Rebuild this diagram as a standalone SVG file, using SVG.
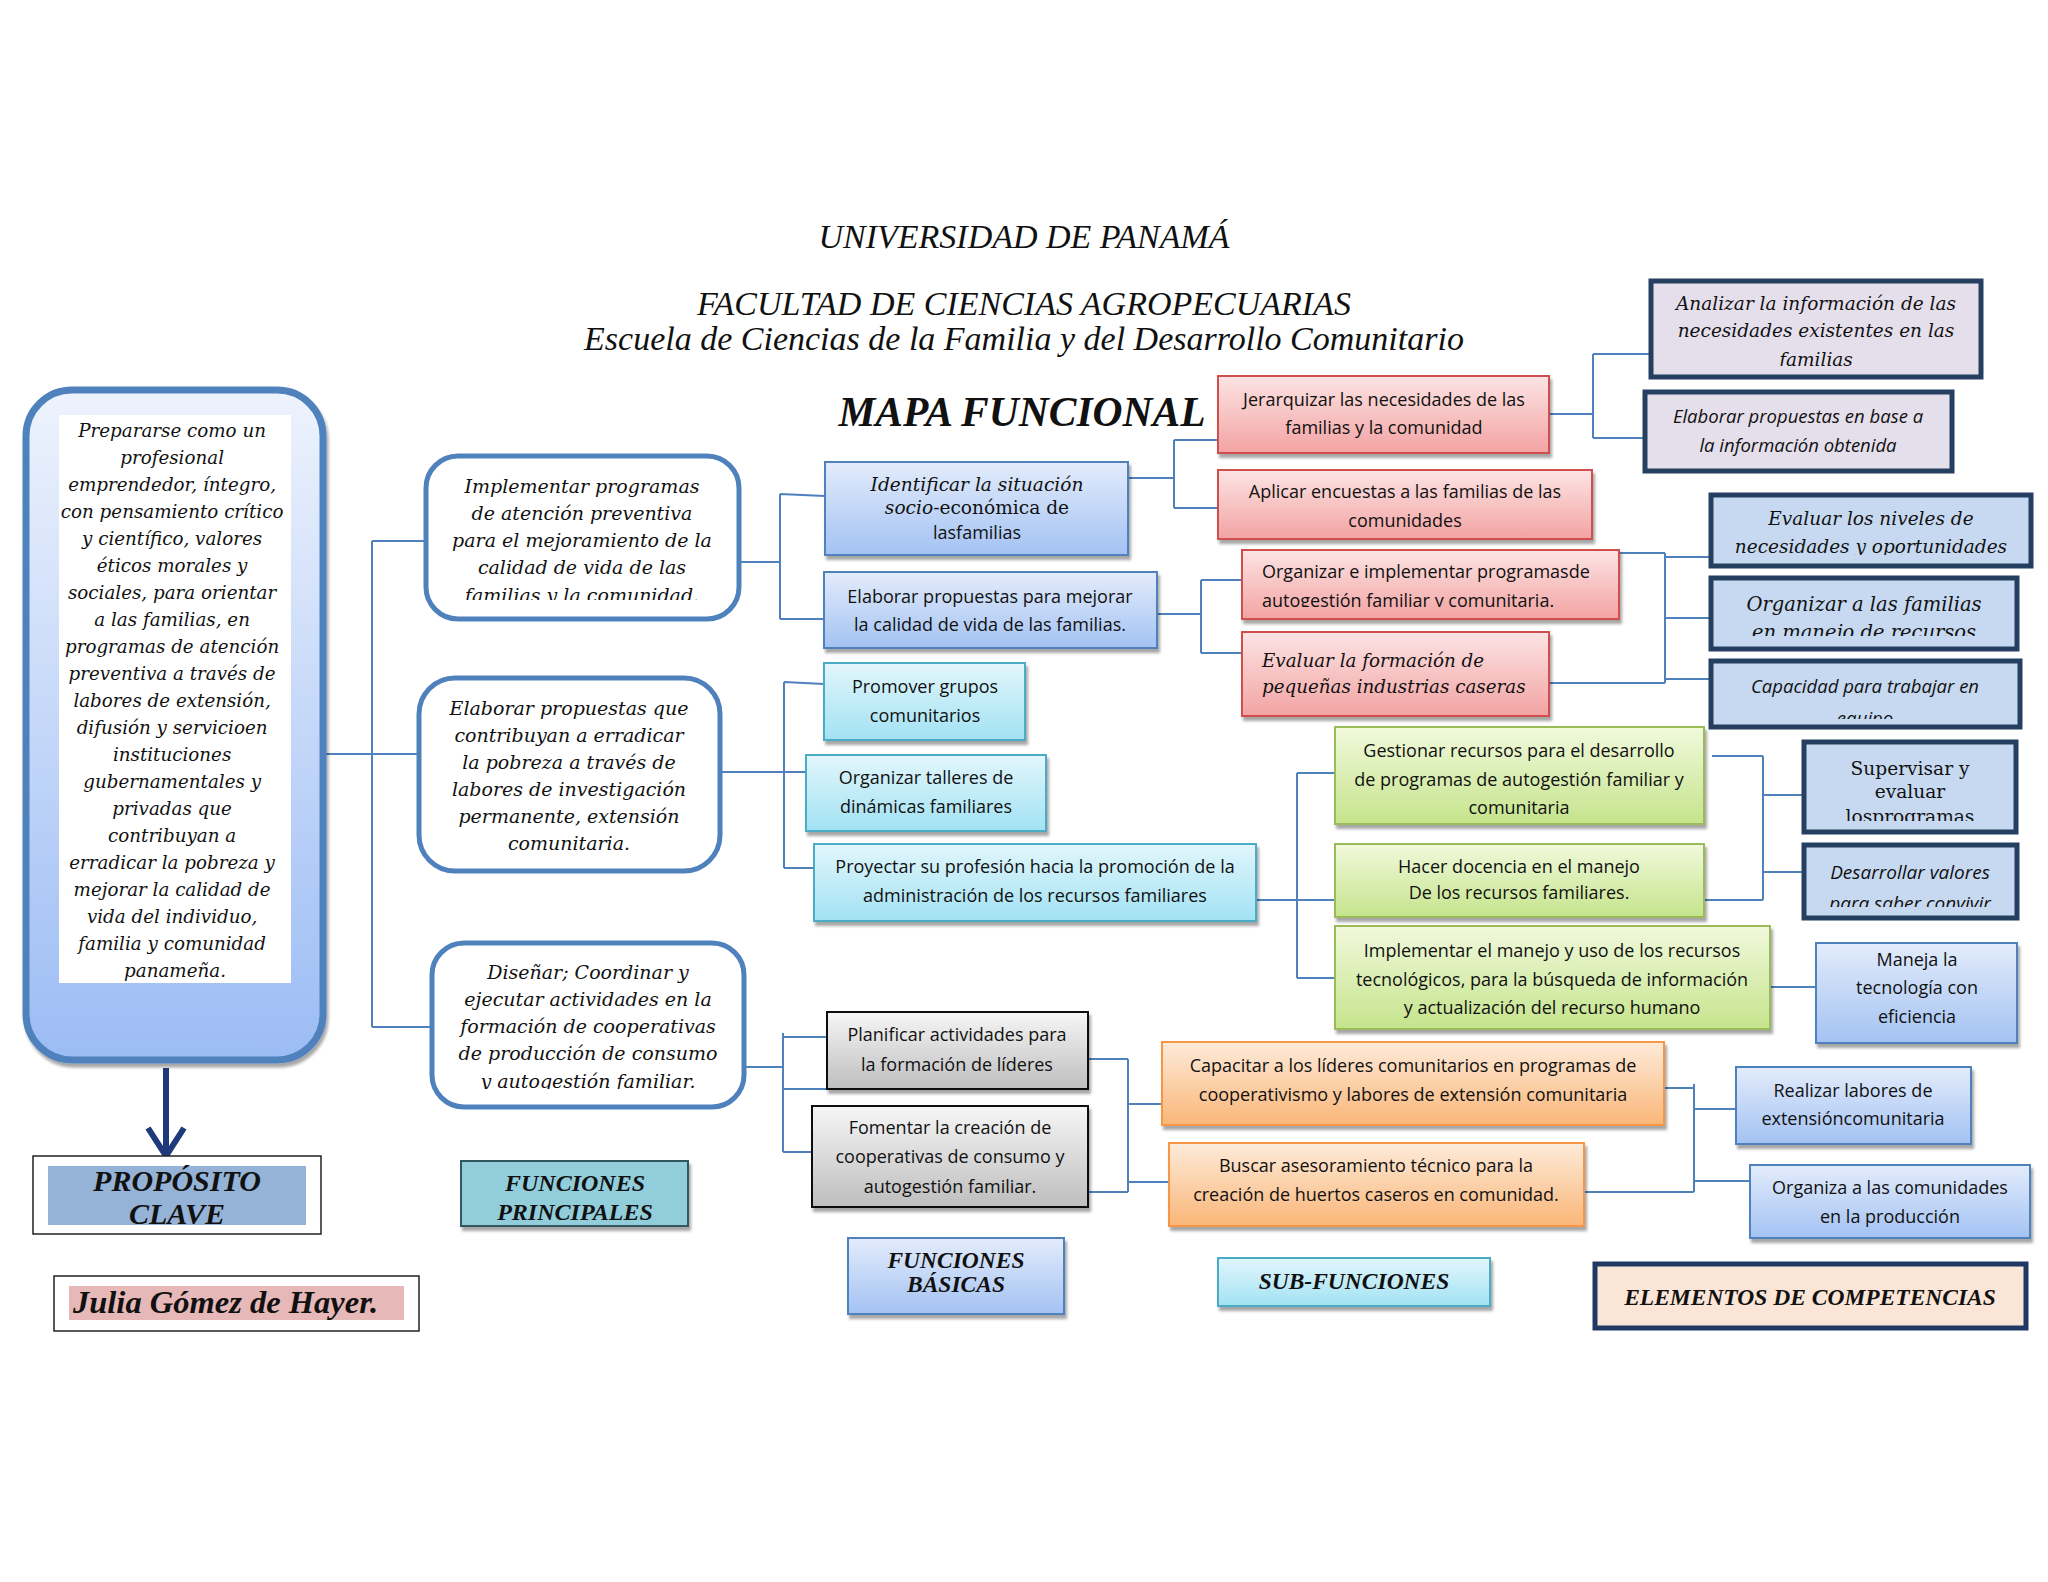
<svg xmlns="http://www.w3.org/2000/svg" width="2048" height="1582" viewBox="0 0 2048 1582">
<style>
.c{fill:none;stroke:#4F81BD;stroke-width:2}
.sn{font-family:"Open Sans","DejaVu Sans",sans-serif;font-size:18px;fill:#111;text-anchor:middle}
.sni{font-family:"Open Sans","DejaVu Sans",sans-serif;font-style:italic;font-size:18.5px;fill:#111;text-anchor:middle}
.si{font-family:"DejaVu Serif","Liberation Serif",serif;font-style:italic;font-size:19px;fill:#111;text-anchor:middle}
.sr{font-family:"DejaVu Serif","Liberation Serif",serif;font-size:18.6px;fill:#111;text-anchor:middle}
.hd{font-family:"Liberation Serif","DejaVu Serif",serif;font-style:italic;font-size:34px;fill:#111;text-anchor:middle}
.lb{font-family:"Liberation Serif","DejaVu Serif",serif;font-style:italic;font-weight:bold;font-size:23.5px;fill:#111;text-anchor:middle}
.fn{fill:#fff;stroke:#4F81BD;stroke-width:5}
.bl{fill:url(#gB);stroke:#4F81BD;stroke-width:2}
.cy{fill:url(#gC);stroke:#4BACC6;stroke-width:2}
.rd{fill:url(#gR);stroke:#D0504D;stroke-width:2}
.gr{fill:url(#gG);stroke:#9BBB59;stroke-width:2}
.or{fill:url(#gO);stroke:#F79646;stroke-width:2}
.gy{fill:url(#gY);stroke:#111;stroke-width:2}
.ed{stroke:#243F60;stroke-width:5}
</style>
<defs>
<linearGradient id="gB" x1="0" y1="0" x2="0" y2="1"><stop offset="0" stop-color="#E3ECFB"/><stop offset="1" stop-color="#A3C2F3"/></linearGradient>
<linearGradient id="gK" x1="0" y1="0" x2="0" y2="1"><stop offset="0" stop-color="#EEF3FD"/><stop offset="1" stop-color="#9BBCF4"/></linearGradient>
<linearGradient id="gC" x1="0" y1="0" x2="0" y2="1"><stop offset="0" stop-color="#E2F6FC"/><stop offset="1" stop-color="#A2E2F3"/></linearGradient>
<linearGradient id="gR" x1="0" y1="0" x2="0" y2="1"><stop offset="0" stop-color="#FCE4E4"/><stop offset="1" stop-color="#F3A3A3"/></linearGradient>
<linearGradient id="gG" x1="0" y1="0" x2="0" y2="1"><stop offset="0" stop-color="#F1F9DC"/><stop offset="1" stop-color="#C5E48C"/></linearGradient>
<linearGradient id="gO" x1="0" y1="0" x2="0" y2="1"><stop offset="0" stop-color="#FDEBDA"/><stop offset="1" stop-color="#FAB678"/></linearGradient>
<linearGradient id="gY" x1="0" y1="0" x2="0" y2="1"><stop offset="0" stop-color="#F6F6F6"/><stop offset="1" stop-color="#BEBEBE"/></linearGradient>
<filter id="sh" x="-10%" y="-10%" width="120%" height="130%"><feDropShadow dx="2" dy="4" stdDeviation="1.5" flood-color="#000" flood-opacity="0.35"/></filter>
<clipPath id="cF1"><rect x="426" y="456" width="313" height="144"/></clipPath>
<clipPath id="cF3"><rect x="432" y="943" width="312" height="146"/></clipPath>
<clipPath id="cS3"><rect x="1242" y="550" width="377" height="57"/></clipPath>
<clipPath id="cE1"><rect x="1651" y="281" width="330" height="85"/></clipPath>
<clipPath id="cE3"><rect x="1711" y="495" width="320" height="60"/></clipPath>
<clipPath id="cE4"><rect x="1711" y="578" width="306" height="58"/></clipPath>
<clipPath id="cE5"><rect x="1711" y="661" width="309" height="58"/></clipPath>
<clipPath id="cE6"><rect x="1804" y="742" width="212" height="79"/></clipPath>
<clipPath id="cE7"><rect x="1804" y="845" width="213" height="62"/></clipPath>
</defs>
<rect x="0" y="0" width="2048" height="1582" fill="#fff"/>

<g id="title">
<text class="hd" x="1024" y="248">UNIVERSIDAD DE PANAMÁ</text>
<text class="hd" x="1024" y="315">FACULTAD DE CIENCIAS AGROPECUARIAS</text>
<text class="hd" x="1024" y="350">Escuela de Ciencias de la Familia y del Desarrollo Comunitario</text>
<text class="lb" x="1022" y="426" style="font-size:41.5px">MAPA FUNCIONAL</text>
</g>

<g id="connectors">
<path class="c" d="M372,541V1027M372,541H426M323,754H419M372,1027H432" />
<path class="c" d="M739,562H780M780,494V619M780,494L825,496M780,619H824"/>
<path class="c" d="M720,772H784M784,682V868M784,682L824,684M784,772H806M784,868H814"/>
<path class="c" d="M744,1067H783M783,1033V1152M783,1037H827M783,1089H827M783,1152H812"/>
<path class="c" d="M1088,1059H1128M1088,1192H1128M1128,1059V1192M1128,1104H1162M1128,1182H1169"/>
<path class="c" d="M1664,1088H1694M1584,1192H1694M1694,1084V1192M1694,1109H1736M1694,1181H1750"/>
<path class="c" d="M1128,478H1174M1174,440V508M1174,440H1218M1174,508H1218"/>
<path class="c" d="M1157,614H1201M1201,580V653M1201,580H1242M1201,653H1242"/>
<path class="c" d="M1549,414H1593M1593,354V438M1593,354H1651M1593,438H1645"/>
<path class="c" d="M1619,553H1665M1549,683H1665M1665,553V683M1665,557H1711M1665,618H1711M1665,679H1711"/>
<path class="c" d="M1256,900H1297M1297,773V978M1297,773H1335M1297,900H1335M1297,978H1335"/>
<path class="c" d="M1712,756H1763M1704,900H1763M1763,756V900M1763,795H1804M1763,872H1804"/>
<path class="c" d="M1770,987H1816"/>
<path d="M166,1068V1152M148,1128L166,1156L184,1128" fill="none" stroke="#1F3A7A" stroke-width="6"/>
</g>

<g id="n-key">
<rect x="26" y="390" width="297" height="670" rx="46" fill="url(#gK)" stroke="#4F81BD" stroke-width="7" filter="url(#sh)"/>
<rect x="59" y="415" width="232" height="568" fill="#fff"/>
<text class="si" style="font-size:18.3px">
<tspan x="175" y="437">Prepararse como un</tspan>
<tspan x="175" y="464">profesional</tspan>
<tspan x="175" y="491">emprendedor, íntegro,</tspan>
<tspan x="175" y="518">con pensamiento crítico</tspan>
<tspan x="175" y="545">y científico, valores</tspan>
<tspan x="175" y="572">éticos morales y</tspan>
<tspan x="175" y="599">sociales, para orientar</tspan>
<tspan x="175" y="626">a las familias, en</tspan>
<tspan x="175" y="653">programas  de atención</tspan>
<tspan x="175" y="680">preventiva  a través de</tspan>
<tspan x="175" y="707">labores de extensión,</tspan>
<tspan x="175" y="734">difusión y servicioen</tspan>
<tspan x="175" y="761">instituciones</tspan>
<tspan x="175" y="788">gubernamentales y</tspan>
<tspan x="175" y="815">privadas  que</tspan>
<tspan x="175" y="842">contribuyan a</tspan>
<tspan x="175" y="869">erradicar la pobreza y</tspan>
<tspan x="175" y="896">mejorar   la calidad de</tspan>
<tspan x="175" y="923">vida del individuo,</tspan>
<tspan x="175" y="950">familia y comunidad</tspan>
<tspan x="175" y="977">panameña.</tspan>
</text>
</g>

<g id="n-f1">
<rect class="fn" x="426" y="456" width="313" height="163" rx="32"/>
<text class="si" clip-path="url(#cF1)"><tspan x="582" y="493">Implementar  programas</tspan><tspan x="582" y="520">de atención preventiva</tspan><tspan x="582" y="547">para el mejoramiento de la</tspan><tspan x="582" y="574">calidad de vida de las</tspan><tspan x="582" y="602">familias y la comunidad.</tspan></text>
</g>
<g id="n-f2">
<rect class="fn" x="419" y="678" width="301" height="193" rx="36"/>
<text class="si"><tspan x="569" y="715">Elaborar propuestas que</tspan><tspan x="569" y="742">contribuyan a erradicar</tspan><tspan x="569" y="769">la pobreza a través de</tspan><tspan x="569" y="796">labores de  investigación</tspan><tspan x="569" y="823">permanente, extensión</tspan><tspan x="569" y="850">comunitaria.</tspan></text>
</g>
<g id="n-f3">
<rect class="fn" x="432" y="943" width="312" height="164" rx="32"/>
<text class="si" clip-path="url(#cF3)"><tspan x="588" y="979">Diseñar; Coordinar y</tspan><tspan x="588" y="1006">ejecutar  actividades en la</tspan><tspan x="588" y="1033">formación de cooperativas</tspan><tspan x="588" y="1060">de producción de consumo</tspan><tspan x="588" y="1088">y autogestión familiar.</tspan></text>
</g>

<g id="n-b1">
<rect class="bl" x="825" y="462" width="303" height="93" filter="url(#sh)"/>
<text class="si" x="977" y="491" style="font-size:18.6px">Identificar la situación</text>
<text class="sr" x="977" y="514" style="font-size:18.6px"><tspan font-style="italic">socio</tspan>-económica de</text>
<text class="sn" x="977" y="539">lasfamilias</text>
</g>
<g id="n-b2">
<rect class="bl" x="824" y="572" width="333" height="76" filter="url(#sh)"/>
<text class="sn"><tspan x="990" y="603">Elaborar propuestas  para mejorar</tspan><tspan x="990" y="631">la calidad de vida de las familias.</tspan></text>
</g>
<g id="n-b3">
<rect class="cy" x="824" y="663" width="201" height="77" filter="url(#sh)"/>
<text class="sn"><tspan x="925" y="693">Promover grupos</tspan><tspan x="925" y="722">comunitarios</tspan></text>
</g>
<g id="n-b4">
<rect class="cy" x="806" y="755" width="240" height="76" filter="url(#sh)"/>
<text class="sn"><tspan x="926" y="784">Organizar talleres de</tspan><tspan x="926" y="813">dinámicas familiares</tspan></text>
</g>
<g id="n-b5">
<rect class="cy" x="814" y="844" width="442" height="77" filter="url(#sh)"/>
<text class="sn"><tspan x="1035" y="873">Proyectar su profesión hacia la promoción de la</tspan><tspan x="1035" y="902">administración de los recursos familiares</tspan></text>
</g>
<g id="n-b6">
<rect class="gy" x="827" y="1012" width="261" height="77" filter="url(#sh)"/>
<text class="sn"><tspan x="957" y="1041">Planificar actividades para</tspan><tspan x="957" y="1071">la formación de líderes</tspan></text>
</g>
<g id="n-b7">
<rect class="gy" x="812" y="1106" width="276" height="101" filter="url(#sh)"/>
<text class="sn"><tspan x="950" y="1134">Fomentar la creación de</tspan><tspan x="950" y="1163">cooperativas de consumo y</tspan><tspan x="950" y="1193">autogestión familiar.</tspan></text>
</g>

<g id="n-s1">
<rect class="rd" x="1218" y="376" width="331" height="77" filter="url(#sh)"/>
<text class="sn"><tspan x="1384" y="406">Jerarquizar  las necesidades de las</tspan><tspan x="1384" y="434">familias y la comunidad</tspan></text>
</g>
<g id="n-s2">
<rect class="rd" x="1218" y="470" width="374" height="69" filter="url(#sh)"/>
<text class="sn"><tspan x="1405" y="498">Aplicar encuestas  a las familias de las</tspan><tspan x="1405" y="527">comunidades</tspan></text>
</g>
<g id="n-s3">
<rect class="rd" x="1242" y="550" width="377" height="69" filter="url(#sh)"/>
<text class="sn" style="text-anchor:start" clip-path="url(#cS3)"><tspan x="1262" y="578">Organizar e implementar  programasde</tspan><tspan x="1262" y="607">autogestión familiar y comunitaria.</tspan></text>
</g>
<g id="n-s4">
<rect class="rd" x="1242" y="632" width="307" height="84" filter="url(#sh)"/>
<text class="si" style="text-anchor:start;font-size:18.3px"><tspan x="1262" y="667">Evaluar la formación de</tspan><tspan x="1262" y="693">pequeñas industrias caseras</tspan></text>
</g>

<g id="n-g1">
<rect class="gr" x="1335" y="727" width="369" height="97" filter="url(#sh)"/>
<text class="sn"><tspan x="1519" y="757">Gestionar recursos para el desarrollo</tspan><tspan x="1519" y="786">de programas de autogestión familiar y</tspan><tspan x="1519" y="814">comunitaria</tspan></text>
</g>
<g id="n-g2">
<rect class="gr" x="1335" y="844" width="369" height="73" filter="url(#sh)"/>
<text class="sn"><tspan x="1519" y="873">Hacer docencia en el manejo</tspan><tspan x="1519" y="899">De los recursos familiares.</tspan></text>
</g>
<g id="n-g3">
<rect class="gr" x="1335" y="926" width="435" height="103" filter="url(#sh)"/>
<text class="sn"><tspan x="1552" y="957">Implementar el manejo y uso de los recursos</tspan><tspan x="1552" y="986">tecnológicos, para la búsqueda de información</tspan><tspan x="1552" y="1014">y actualización del recurso humano</tspan></text>
</g>

<g id="n-o1">
<rect class="or" x="1162" y="1042" width="502" height="83" filter="url(#sh)"/>
<text class="sn"><tspan x="1413" y="1072">Capacitar a los líderes comunitarios en programas de</tspan><tspan x="1413" y="1101">cooperativismo y labores de extensión comunitaria</tspan></text>
</g>
<g id="n-o2">
<rect class="or" x="1169" y="1143" width="415" height="83" filter="url(#sh)"/>
<text class="sn"><tspan x="1376" y="1172">Buscar asesoramiento técnico para la</tspan><tspan x="1376" y="1201">creación de huertos caseros en comunidad.</tspan></text>
</g>

<g id="n-e1">
<rect class="ed" x="1651" y="281" width="330" height="96" fill="#E5DFEC"/>
<text class="si" style="font-size:18.5px" clip-path="url(#cE1)"><tspan x="1816" y="310">Analizar  la información de las</tspan><tspan x="1816" y="337">necesidades existentes en las</tspan><tspan x="1816" y="366">familias</tspan></text>
</g>
<g id="n-e2">
<rect class="ed" x="1645" y="392" width="307" height="79" fill="#E5DFEC"/>
<text class="sni"><tspan x="1798" y="423">Elaborar propuestas en base a</tspan><tspan x="1798" y="452">la información obtenida</tspan></text>
</g>
<g id="n-e3">
<rect class="ed" x="1711" y="495" width="320" height="71" fill="#C6D9F1"/>
<text class="si" style="font-size:18.5px" clip-path="url(#cE3)"><tspan x="1871" y="525">Evaluar los niveles de</tspan><tspan x="1871" y="553">necesidades  y oportunidades</tspan></text>
</g>
<g id="n-e4">
<rect class="ed" x="1711" y="578" width="306" height="71" fill="#C6D9F1"/>
<text class="si" style="font-size:19.5px" clip-path="url(#cE4)"><tspan x="1864" y="611">Organizar   a las familias</tspan><tspan x="1864" y="639">en manejo de recursos</tspan></text>
</g>
<g id="n-e5">
<rect class="ed" x="1711" y="661" width="309" height="66" fill="#C6D9F1"/>
<text class="sni" clip-path="url(#cE5)"><tspan x="1865" y="693">Capacidad para trabajar en</tspan><tspan x="1865" y="725">equipo</tspan></text>
</g>
<g id="n-e6">
<rect class="ed" x="1804" y="742" width="212" height="90" fill="#C6D9F1"/>
<text class="sr" clip-path="url(#cE6)"><tspan x="1910" y="775">Supervisar  y</tspan><tspan x="1910" y="798">evaluar</tspan><tspan x="1910" y="823">losprogramas</tspan></text>
</g>
<g id="n-e7">
<rect class="ed" x="1804" y="845" width="213" height="73" fill="#C6D9F1"/>
<text class="sni" style="font-size:19px" clip-path="url(#cE7)"><tspan x="1910" y="879">Desarrollar valores</tspan><tspan x="1910" y="910">para saber convivir</tspan></text>
</g>
<g id="n-e8">
<rect class="bl" x="1816" y="943" width="201" height="100" filter="url(#sh)"/>
<text class="sn"><tspan x="1917" y="966">Maneja la</tspan><tspan x="1917" y="994">tecnología con</tspan><tspan x="1917" y="1023">eficiencia</tspan></text>
</g>
<g id="n-r1">
<rect class="bl" x="1736" y="1067" width="235" height="77" filter="url(#sh)"/>
<text class="sn"><tspan x="1853" y="1097">Realizar labores de</tspan><tspan x="1853" y="1125">extensióncomunitaria</tspan></text>
</g>
<g id="n-r2">
<rect class="bl" x="1750" y="1165" width="280" height="73" filter="url(#sh)"/>
<text class="sn"><tspan x="1890" y="1194">Organiza a las comunidades</tspan><tspan x="1890" y="1223">en la producción</tspan></text>
</g>

<g id="lbl-proposito">
<rect x="33" y="1156" width="288" height="78" fill="#fff" stroke="#222" stroke-width="1.5"/>
<rect x="48" y="1166" width="258" height="59" fill="#95B3D7"/>
<text class="lb" style="font-size:30px"><tspan x="177" y="1191">PROPÓSITO</tspan><tspan x="177" y="1224">CLAVE</tspan></text>
</g>
<g id="lbl-autor">
<rect x="54" y="1276" width="365" height="55" fill="#fff" stroke="#222" stroke-width="1.5"/>
<rect x="69" y="1286" width="335" height="34" fill="#E6B8B7"/>
<text class="lb" x="73" y="1313" style="font-size:32.5px;text-anchor:start">Julia Gómez de Hayer.</text>
</g>
<g id="lbl-principales">
<rect x="461" y="1161" width="227" height="65" fill="#92CDDC" stroke="#31595F" stroke-width="2" filter="url(#sh)"/>
<text class="lb" style="font-size:24px"><tspan x="575" y="1191">FUNCIONES</tspan><tspan x="575" y="1220">PRINCIPALES</tspan></text>
</g>
<g id="lbl-basicas">
<rect class="bl" x="848" y="1238" width="216" height="76" filter="url(#sh)"/>
<text class="lb"><tspan x="956" y="1268">FUNCIONES</tspan><tspan x="956" y="1292">BÁSICAS</tspan></text>
</g>
<g id="lbl-sub">
<rect class="cy" x="1218" y="1258" width="272" height="48" filter="url(#sh)"/>
<text class="lb" x="1354" y="1289">SUB-FUNCIONES</text>
</g>
<g id="lbl-elementos">
<rect x="1595" y="1264" width="431" height="64" fill="#FBE5D6" stroke="#1F3864" stroke-width="5"/>
<text class="lb" x="1810" y="1305">ELEMENTOS DE COMPETENCIAS</text>
</g>
</svg>
